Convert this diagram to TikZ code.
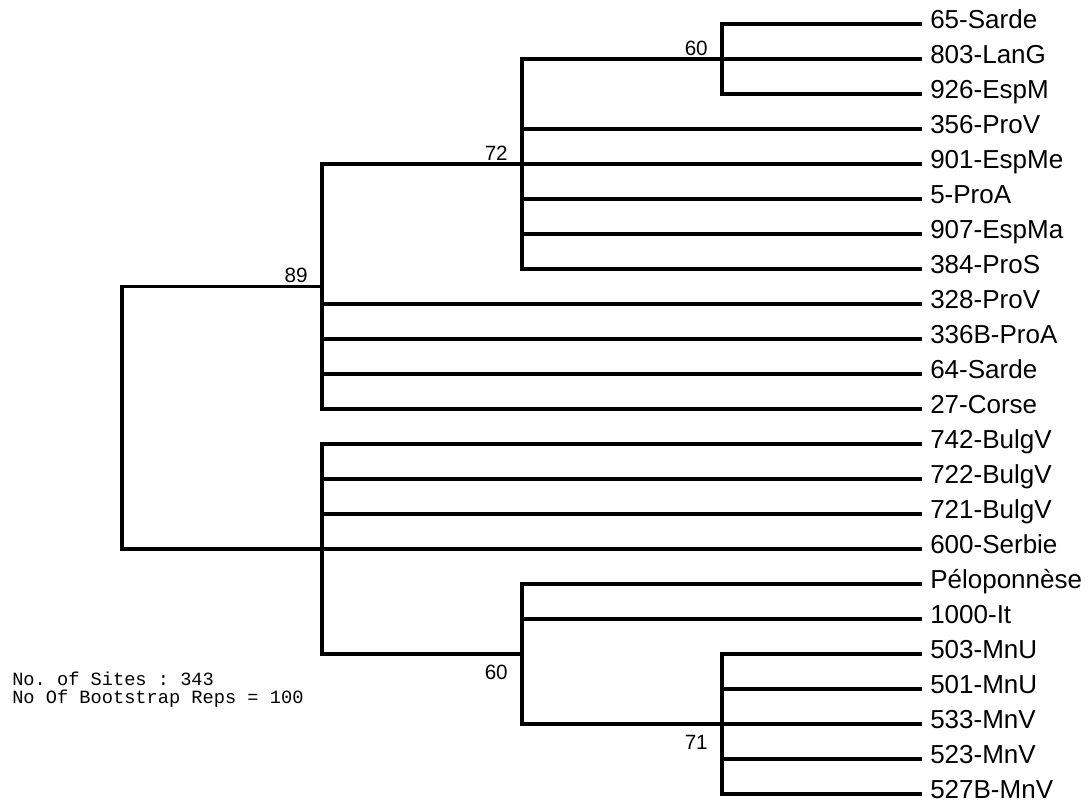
\documentclass[tikz,border=0pt]{standalone}
\usepackage{fontspec}
\setmainfont{Liberation Sans}
\newfontfamily\monofont{Liberation Mono}
\usetikzlibrary{positioning}

\tikzset{
  branch/.style={line width=2.4pt},
  leaf/.style={anchor=west,inner xsep=6pt,inner ysep=0pt,text height=8.8pt,text depth=1.8pt,font=\fontsize{19.5}{21}\selectfont},
  boot/.style={inner sep=0pt,font=\fontsize{15.5}{16}\selectfont},
}

\begin{document}
\begin{tikzpicture}[x=0.75pt,y=-0.75pt]
  \useasboundingbox (0,0) rectangle (1092,804);
  % 葉（35px間隔）
  \foreach \name [count=\i] in {65-Sarde,803-LanG,926-EspM,356-ProV,901-EspMe,5-ProA,907-EspMa,384-ProS,328-ProV,336B-ProA,64-Sarde,27-Corse,742-BulgV,722-BulgV,721-BulgV,600-Serbie,Péloponnèse,1000-It,503-MnU,501-MnU,533-MnV,523-MnV,527B-MnV}
    \node[leaf] (l\i) at (922,{24+35*(\i-1)}) {\name};
  % 内部節
  \coordinate (n60a) at (722,59);
  \coordinate (n72) at (522,164);
  \coordinate (n89) at (322,286.5);
  \coordinate (nB) at (322,549);
  \coordinate (n60b) at (522,654);
  \coordinate (n71) at (722,724);
  \coordinate (root) at (122,417.75);
  \draw[branch] (root) |- (n89);
  \draw[branch] (root) |- (nB);
  \draw[branch] (n89) |- (n72);
  \foreach \i in {9,...,12} \draw[branch] (n89) |- (l\i.west);
  \draw[branch] (n72) |- (n60a);
  \foreach \i in {4,...,8} \draw[branch] (n72) |- (l\i.west);
  \foreach \i in {1,2,3} \draw[branch] (n60a) |- (l\i.west);
  \foreach \i in {13,...,16} \draw[branch] (nB) |- (l\i.west);
  \draw[branch] (nB) |- (n60b);
  \foreach \i in {17,18} \draw[branch] (n60b) |- (l\i.west);
  \draw[branch] (n60b) |- (n71);
  \foreach \i in {19,...,23} \draw[branch] (n71) |- (l\i.west);
  % ブートストラップ値
  \node[boot,above left=2.4pt and 10.5pt of n89] (b89) {89};
  \node[boot,above left=2.4pt and 10.5pt of n72] (b72) {72};
  \node[boot,above left=2.4pt and 10.5pt of n60a] (b60a) {60};
  \node[boot,below left=7.9pt and 10.5pt of n60b] (b60b) {60};
  \node[boot,below left=7.9pt and 10.5pt of n71] (b71) {71};
  \node[anchor=north west,inner sep=0pt,align=left,font=\monofont\fontsize{14}{13}\selectfont\frenchspacing] (info) at (12,672) {No. of Sites : 343\\No Of Bootstrap Reps = 100};
\end{tikzpicture}
\end{document}
